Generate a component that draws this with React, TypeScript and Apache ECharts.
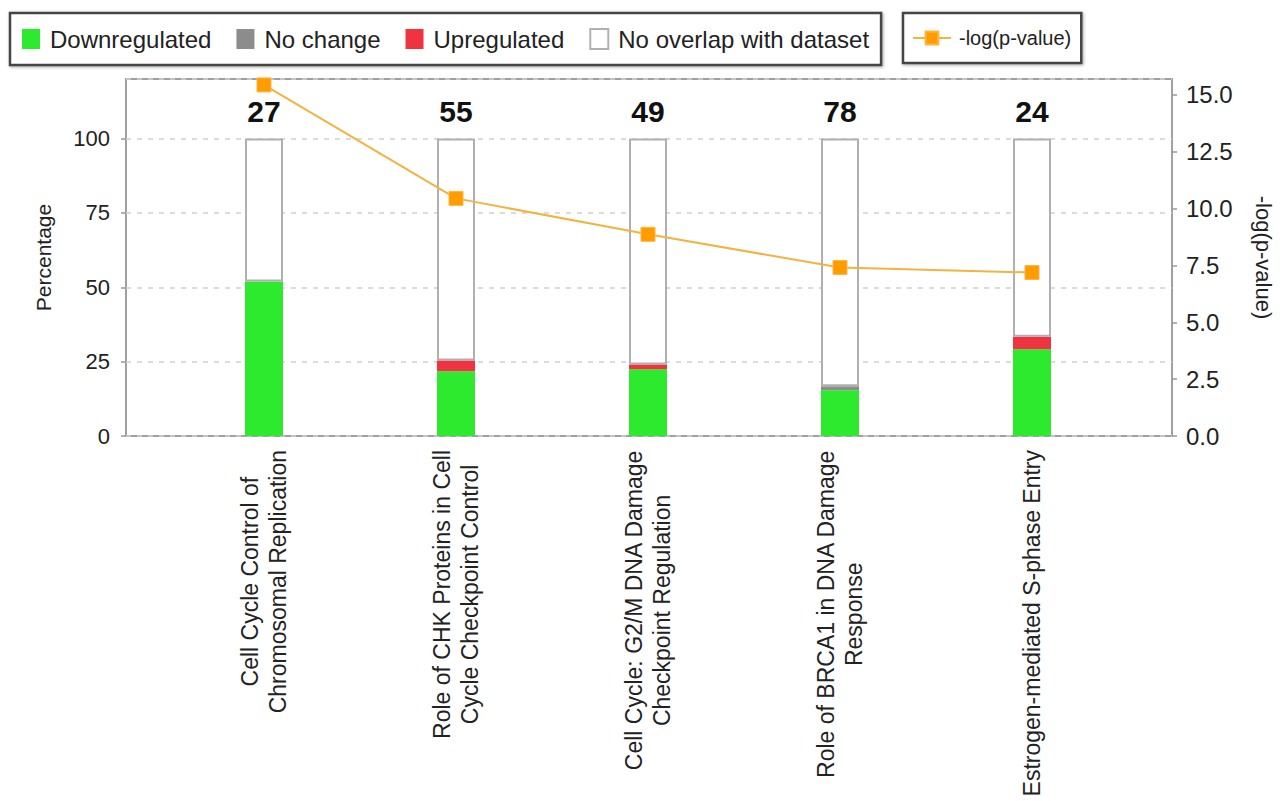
import React, { useEffect, useRef } from 'react';
import * as echarts from 'echarts';

const categories = [
  'Cell Cycle Control of\nChromosomal Replication',
  'Role of CHK Proteins in Cell\nCycle Checkpoint Control',
  'Cell Cycle: G2/M DNA Damage\nCheckpoint Regulation',
  'Role of BRCA1 in DNA Damage\nResponse',
  'Estrogen-mediated S-phase Entry',
];
const geneTotals = [27, 55, 49, 78, 24];
const downregulated = [51.9, 21.8, 22.4, 15.4, 29.2];
const noChange = [0, 0, 0, 1.3, 0];
const upregulated = [0, 3.6, 1.6, 0, 4.2];
const noOverlap = [48.1, 74.6, 76.0, 83.3, 66.6];
const negLogP = [15.44, 10.45, 8.87, 7.41, 7.19];
const leftTicks = { min: 0, max: 120, interval: 25 };
const rightTicks = { min: 0, max: 15.7, interval: 2.5 };

const FONT = 'Liberation Sans, Arial, sans-serif';

export default function App() {
  const ref = useRef<HTMLDivElement>(null);
  useEffect(() => {
    const chart = echarts.init(ref.current as HTMLDivElement, null, { renderer: 'svg' });
    const legendBox = {
      top: 13,
      orient: 'horizontal',
      borderColor: '#444',
      borderWidth: 2.5,
      backgroundColor: '#fff',
      shadowBlur: 3,
      shadowColor: 'rgba(0,0,0,0.35)',
      shadowOffsetX: 1,
      shadowOffsetY: 1,
      selectedMode: false,
    };
    const option: any = {
      animation: false,
      backgroundColor: '#fff',
      legend: [
        {
          ...legendBox,
          left: 10,
          padding: [14, 12, 14, 12],
          data: ['Downregulated', 'No change', 'Upregulated', 'No overlap with dataset'],
          icon: 'rect',
          itemWidth: 18,
          itemHeight: 20,
          itemGap: 25,
          textStyle: { fontSize: 24, color: '#222', fontFamily: FONT, padding: [0, 0, 0, 5] },
        },
        {
          ...legendBox,
          left: 903,
          padding: [15, 10, 15, 9],
          data: ['-log(p-value)'],
          itemWidth: 38,
          itemHeight: 16,
          textStyle: { fontSize: 20, color: '#222', fontFamily: FONT, padding: [0, 0, 0, 3] },
        },
      ],
      grid: [
        {
          left: 126, top: 79, width: 1046, height: 357,
          show: true, borderColor: '#a0a0a0', borderWidth: 2, backgroundColor: 'transparent',
        },
        { left: 168, top: 79, width: 960, height: 357 },
      ],
      xAxis: [
        { type: 'value', gridIndex: 0, min: 0, max: 1, show: false },
        {
          type: 'category',
          gridIndex: 1,
          data: categories,
          axisLine: { show: false },
          axisTick: { show: false },
          axisLabel: {
            rotate: 90,
            interval: 0,
            margin: 14,
            fontSize: 23,
            fontFamily: FONT,
            color: '#222',
            formatter: (v: string) => v.split('\n').map((s) => `{c|${s}}`).join('\n'),
            rich: { c: { align: 'center', fontSize: 23, lineHeight: 28, fontFamily: FONT, color: '#222' } },
          },
        },
      ],
      yAxis: [
        {
          type: 'value', gridIndex: 0, position: 'left',
          ...leftTicks,
          name: 'Percentage', nameLocation: 'middle', nameGap: 72, nameRotate: 90,
          nameTextStyle: { fontSize: 21, color: '#222', fontFamily: FONT },
          axisLine: { show: false },
          axisTick: { show: true, length: 5, lineStyle: { color: '#999', width: 1.5 } },
          axisLabel: { fontSize: 22, color: '#222', margin: 16, showMaxLabel: false, fontFamily: FONT },
          splitLine: { show: true, lineStyle: { type: [5, 6], color: '#cfcfcf', width: 1.5 } },
        },
        {
          type: 'value', gridIndex: 0, position: 'right',
          ...rightTicks,
          name: '-log(p-value)', nameLocation: 'middle', nameGap: 80, nameRotate: -90,
          nameTextStyle: { fontSize: 22, color: '#222', fontFamily: FONT },
          axisLine: { show: false },
          axisTick: { show: true, length: 5, lineStyle: { color: '#999', width: 1.5 } },
          axisLabel: {
            fontSize: 24, color: '#222', margin: 14, showMaxLabel: false, fontFamily: FONT,
            formatter: (v: number) => v.toFixed(1),
          },
          splitLine: { show: false },
        },
        { type: 'value', gridIndex: 1, ...leftTicks, show: false, splitLine: { show: false } },
        { type: 'value', gridIndex: 1, ...rightTicks, show: false, splitLine: { show: false } },
      ],
      series: [
        {
          name: 'Downregulated', type: 'bar', stack: 'pct', xAxisIndex: 1, yAxisIndex: 2,
          barWidth: 38, data: downregulated, itemStyle: { color: '#2eea2e' },
        },
        {
          name: 'No change', type: 'bar', stack: 'pct', xAxisIndex: 1, yAxisIndex: 2,
          barWidth: 38, data: noChange, itemStyle: { color: '#8c8c8c' },
        },
        {
          name: 'Upregulated', type: 'bar', stack: 'pct', xAxisIndex: 1, yAxisIndex: 2,
          barWidth: 38, data: upregulated, itemStyle: { color: '#ef3340' },
        },
        {
          name: 'No overlap with dataset', type: 'bar', stack: 'pct', xAxisIndex: 1, yAxisIndex: 2,
          barWidth: 38, data: noOverlap,
          itemStyle: { color: '#ffffff', borderColor: '#b0b0b0', borderWidth: 2 },
          label: {
            show: true, position: 'top', distance: 12,
            formatter: (p: any) => String(geneTotals[p.dataIndex]),
            fontSize: 30, fontWeight: 'bold', color: '#111', fontFamily: FONT,
          },
        },
        {
          name: '-log(p-value)', type: 'line', xAxisIndex: 1, yAxisIndex: 3,
          data: negLogP, symbol: 'rect', symbolSize: 14,
          itemStyle: { color: '#ff9c00', borderColor: '#ffb640', borderWidth: 1 },
          lineStyle: { color: '#f3b340', width: 2 },
          z: 5,
        },
      ],
    };
    chart.setOption(option);
    return () => chart.dispose();
  }, []);
  return (
    <div
      ref={ref}
      style={{ position: 'fixed', left: 0, top: 0, width: 1286, height: 801, background: '#fff' }}
    />
  );
}
